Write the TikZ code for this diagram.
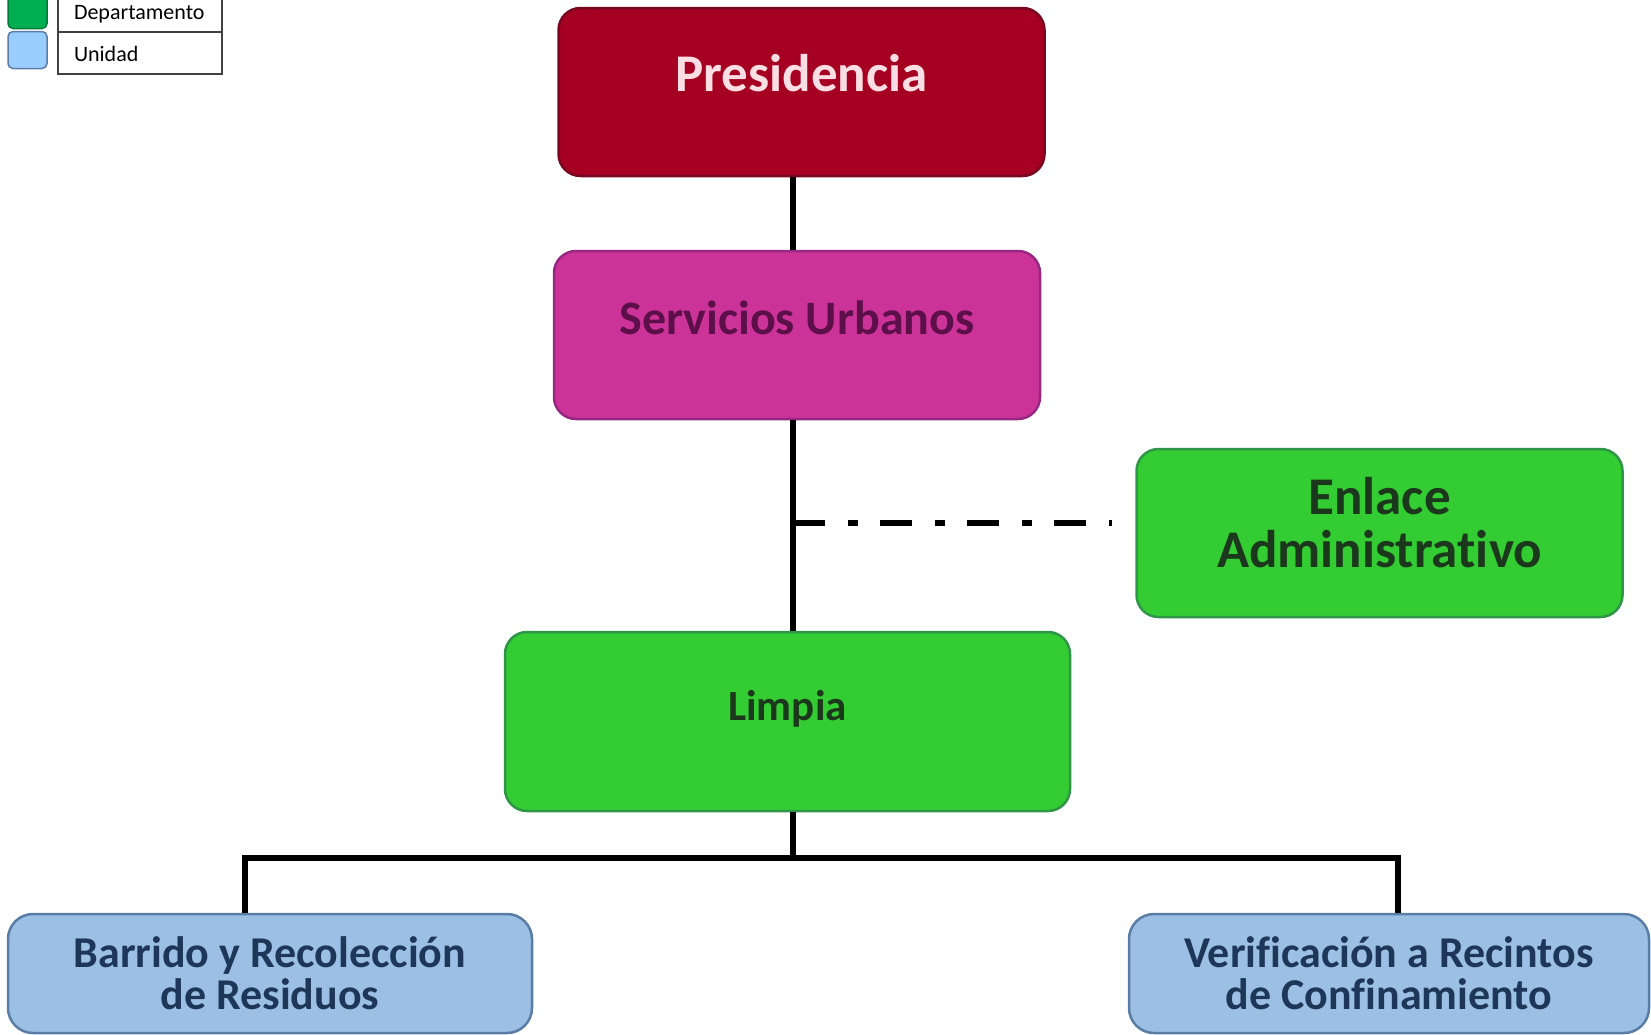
\documentclass[tikz,border=0pt]{standalone}
\usepackage{fontspec}
\setmainfont[Ligatures=NoCommon]{Carlito}
\definecolor{presred}{RGB}{165,0,33}
\definecolor{presedge}{RGB}{120,8,32}
\definecolor{prestext}{RGB}{250,222,228}
\definecolor{servpink}{RGB}{204,51,153}
\definecolor{servedge}{RGB}{150,40,130}
\definecolor{servtext}{RGB}{92,15,72}
\definecolor{deptgreen}{RGB}{51,204,51}
\definecolor{deptedge}{RGB}{46,150,70}
\definecolor{depttext}{RGB}{28,56,28}
\definecolor{unitblue}{RGB}{155,192,228}
\definecolor{unitedge}{RGB}{90,125,165}
\definecolor{unittext}{RGB}{30,55,88}
\definecolor{keygreen}{RGB}{0,176,80}
\definecolor{keyblue}{RGB}{153,204,255}
\tikzset{
  area/.style    = {rectangle, rounded corners=22pt, line width=2.5pt, align=center,
                    minimum width=486pt, minimum height=168pt,
                    font=\bfseries\fontsize{48}{53}\selectfont},
  lift/.style    = {text height=30pt, text depth=32pt},
  presbox/.style = {area, draw=presedge, fill=presred, text=prestext,
                    font=\bfseries\fontsize{53}{53}\selectfont},
  servbox/.style = {area, draw=servedge, fill=servpink, text=servtext},
  deptbox/.style = {area, draw=deptedge, fill=deptgreen, text=depttext},
  unitbox/.style = {area, rounded corners=25pt, draw=unitedge, fill=unitblue, text=unittext,
                    minimum height=119pt, font=\bfseries\fontsize{44}{42}\selectfont},
  swatch/.style  = {rectangle, rounded corners=5pt, draw=unitedge, line width=1.5pt,
                    minimum width=39pt, minimum height=37pt},
  cell/.style    = {rectangle, draw=black!75, line width=1.8pt, minimum height=42pt,
                    text width=132pt, inner xsep=16pt, align=left,
                    text height=21pt, text depth=5pt, font=\fontsize{22}{22}\selectfont},
  link/.style    = {line width=5.5pt},
  staff/.style   = {link, dash pattern=on 32pt off 23pt on 10pt off 22pt},
}
\begin{document}
\begin{tikzpicture}[x=1pt, y=-1pt]
  \useasboundingbox (0,0) rectangle (1651,1034);

  % legend
  \node[swatch, fill=keygreen, draw=keygreen!70!black] (kdept) at (27.5,10) {};
  \node[swatch, fill=keyblue] (kunit) at (27.5,50) {};
  \node[cell] (ldept) at (140,11) {Departamento};
  \node[cell] (lunit) at (140,53) {Unidad};

  % boxes
  \node[presbox, lift] (pres)    at (801.5,92)   {Presidencia};
  \node[servbox, lift] (serv)    at (797,335)    {Servicios Urbanos};
  \node[deptbox, text depth=22pt, font=\bfseries\fontsize{53}{53}\selectfont]
                       (enlace)  at (1379.5,533) {Enlace\\Administrativo};
  \node[deptbox, lift, minimum width=565pt, minimum height=179pt, font=\bfseries\fontsize{43}{43}\selectfont]
                       (limpia)  at (787.5,721.5) {Limpia};
  \node[unitbox, minimum width=524pt] (barrido) at (270,973.5)  {Barrido y Recolección\\de Residuos};
  \node[unitbox, minimum width=520pt] (verif)   at (1389,973.5) {Verificación a Recintos\\de Confinamiento};

  % connectors
  \coordinate (spine) at (793,0);
  \coordinate (tap)   at (793,523);
  \coordinate (bus)   at (793,858);
  \draw[link] (pres.south -| spine) -- (serv.north -| spine);
  \draw[link] (serv.south -| spine) -- (limpia.north -| spine);
  \draw[staff] (tap) -- ([xshift=-23pt]tap -| enlace.west);
  \draw[link] (limpia.south -| spine) -- (bus);
  \draw[link] ([xshift=-25pt]barrido.north) |- (bus) -| ([xshift=9pt]verif.north);
\end{tikzpicture}
\end{document}
